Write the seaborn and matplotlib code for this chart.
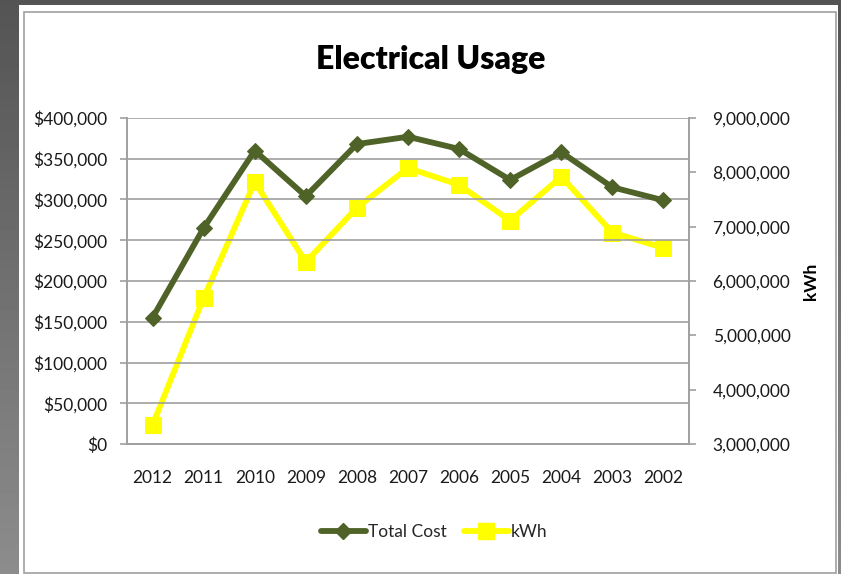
import numpy as np
import pandas as pd
import matplotlib
matplotlib.use("Agg")
import matplotlib.pyplot as plt
from matplotlib.patches import Rectangle
from matplotlib.ticker import FuncFormatter, MultipleLocator, FixedLocator
from matplotlib.lines import Line2D
import seaborn as sns

# ---- data ----
years = ["2012", "2011", "2010", "2009", "2008", "2007", "2006", "2005", "2004", "2003", "2002"]
total_cost = [155000, 265000, 360000, 304000, 368000, 377000, 362000, 324000, 358000, 315000, 299000]
kwh = [3350000, 5690000, 7820000, 6350000, 7350000, 8080000, 7770000, 7110000, 7920000, 6890000, 6610000]

cost_color = "#4f6228"
kwh_color = "#ffff00"

sns.set_theme(style="white")
plt.rcParams["font.family"] = ["Lato", "DejaVu Sans"]

W, H = 841, 574
fig = plt.figure(figsize=(W / 100, H / 100), dpi=100)

# background: gradient gray
bg = fig.add_axes([0, 0, 1, 1], zorder=-10)
ys = np.linspace(0, 1, 100)
grad = 0.33 + 0.22 * ys[:, None] * np.ones((1, 100))
bg.imshow(grad, cmap="gray", vmin=0, vmax=1, extent=[0, 1, 0, 1], aspect="auto", origin="upper")
bg.set_xlim(0, 1)
bg.set_ylim(0, 1)
bg.axis("off")
bg.add_patch(Rectangle((19 / W, 0), (838 - 19) / W, (574 - 5) / H, facecolor="white", edgecolor="none"))
bg.add_patch(Rectangle((24 / W, 1.5 / H), (836 - 24) / W, (572 - 11) / H, facecolor="white",
                       edgecolor="#a0a0a0", linewidth=1.2))

df = pd.DataFrame({"Year": years, "Total Cost": total_cost, "kWh": kwh})

ax = fig.add_axes([127 / W, 1 - 444 / H, (689 - 127) / W, (444 - 118) / H])
ax.set_facecolor("none")
ax2 = ax.twinx()

LW = 4.2
sns.lineplot(data=df, x="Year", y="Total Cost", ax=ax, color=cost_color, linewidth=LW,
             marker="D", markersize=8, markeredgecolor=cost_color, sort=False, zorder=4)
sns.lineplot(data=df, x="Year", y="kWh", ax=ax2, color=kwh_color, linewidth=LW,
             marker="s", markersize=11, markeredgecolor=kwh_color, sort=False, zorder=3)
ax.set_zorder(ax2.get_zorder() + 1)

ax.set_xlim(-0.5, len(years) - 0.5)
ax.set_ylim(0, 400000)
ax2.set_ylim(3000000, 9000000)
ax.yaxis.set_major_locator(MultipleLocator(50000))
ax2.yaxis.set_major_locator(MultipleLocator(1000000))
ax.yaxis.set_major_formatter(FuncFormatter(lambda v, p: f"${v:,.0f}"))
ax2.yaxis.set_major_formatter(FuncFormatter(lambda v, p: f"{v:,.0f}"))
ax.grid(axis="y", color="#a0a0a0", linewidth=1.2)
ax.grid(axis="x", visible=False)
ax2.grid(False)

ax.set_xlabel("")
ax.set_ylabel("")
ax2.set_ylabel("kWh", fontsize=12.5, fontweight="bold", color="black", labelpad=9)

for a in (ax, ax2):
    for s in a.spines.values():
        s.set_color("#a0a0a0")
        s.set_linewidth(1.2)
    a.spines["top"].set_visible(False)
ax.tick_params(axis="x", which="major", length=0, labelsize=12.5, pad=19, colors="#1a1a1a")
ax.xaxis.set_minor_locator(FixedLocator(np.arange(-0.5, len(years), 1.0)))
ax.tick_params(axis="x", which="minor", length=8, color="#a0a0a0", width=1.2, direction="out")
ax.tick_params(axis="y", length=5, color="#a0a0a0", width=1.2, labelsize=12.5, pad=9, left=True)
ax2.tick_params(axis="y", length=5, color="#a0a0a0", width=1.2, labelsize=12.5, pad=12, right=True)
for lab in ax.get_xticklabels() + ax.get_yticklabels() + ax2.get_yticklabels():
    lab.set_color("#1a1a1a")

fig.text(431 / W, 1 - 59 / H, "Electrical Usage", ha="center", va="center",
         fontsize=23, fontweight="heavy", color="black")

if ax.get_legend():
    ax.get_legend().remove()
if ax2.get_legend():
    ax2.get_legend().remove()
handles = [
    Line2D([], [], color=cost_color, linewidth=LW, marker="D", markersize=8, markeredgecolor=cost_color),
    Line2D([], [], color=kwh_color, linewidth=LW, marker="s", markersize=11, markeredgecolor=kwh_color),
]
fig.legend(handles, ["Total Cost", "kWh"], loc="center", bbox_to_anchor=(434 / W, 1 - 532 / H),
           ncol=2, frameon=False, fontsize=12.5, handlelength=2.6, handletextpad=0.1, columnspacing=1.0)

fig.savefig("out.png", dpi=100)
